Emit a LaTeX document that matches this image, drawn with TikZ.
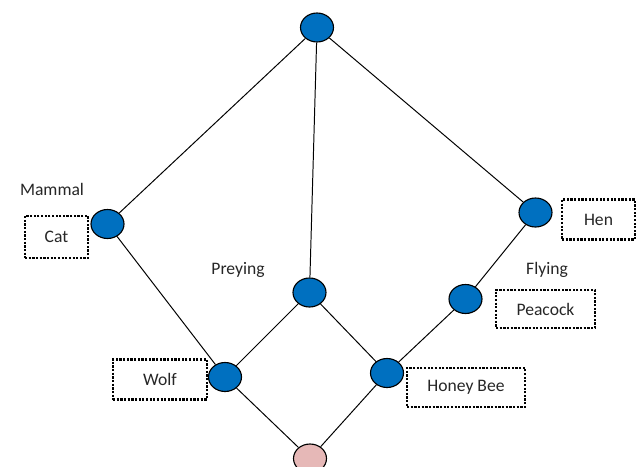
\documentclass[tikz,border=0pt]{standalone}
\usepackage{fontspec}
\setmainfont{Carlito}
\usetikzlibrary{shapes.geometric}
\definecolor{conceptblue}{RGB}{0,112,192}
\definecolor{bottompink}{RGB}{230,184,183}
\definecolor{labelgray}{RGB}{38,38,38}

\begin{document}
\begin{tikzpicture}[
	concept/.style={ellipse,draw,line width=0.8pt,fill=conceptblue,minimum width=0.825cm,minimum height=0.725cm,inner sep=0pt},
	objbox/.style={draw,densely dotted,line width=1.6pt,minimum height=1cm,inner sep=0pt,text=labelgray},
	attr/.style={text=labelgray},
	font=\fontsize{12.5}{15}\selectfont]

	\useasboundingbox (0,0) rectangle (15.975,11.65);

	% Draw the concept nodes of the lattice
	\node[concept] (top) at (7.925,10.9625) {};
	\node[concept] (mammal) at (2.6875,6.05) {};
	\node[concept] (preying) at (7.7375,4.3375) {};
	\node[concept] (hen) at (13.3875,6.3375) {};
	\node[concept] (peacock) at (11.6375,4.175) {};
	\node[concept] (wolf) at (5.625,2.225) {};
	\node[concept] (honeybee) at (9.675,2.325) {};
	\node[concept,fill=bottompink] (bottom) at (7.75,0.1875) {};

	% Draw the lattice edges
	\draw[line width=0.7pt] (top) -- (mammal);
	\draw[line width=0.7pt] (top) -- (preying);
	\draw[line width=0.7pt] (top) -- (hen);
	\draw[line width=0.7pt] (mammal) -- (wolf);
	\draw[line width=0.7pt] (preying) -- (wolf);
	\draw[line width=0.7pt] (preying) -- (honeybee);
	\draw[line width=0.7pt] (hen) -- (peacock);
	\draw[line width=0.7pt] (peacock) -- (honeybee);
	\draw[line width=0.7pt] (wolf) -- (bottom);
	\draw[line width=0.7pt] (honeybee) -- (bottom);

	% Attribute labels
	\node[attr] (lblmammal) at (1.3,6.925) {Mammal};
	\node[attr] (lblpreying) at (5.95,4.9) {Preying};
	\node[attr] (lblflying) at (13.675,4.9) {Flying};

	% Object boxes
	\node[objbox,minimum width=1.575cm,minimum height=1.05cm] (cat) at (1.4125,5.725) {Cat};
	\node[objbox,minimum width=2.35cm] (wolfbox) at (4.0,2.1625) {Wolf};
	\node[objbox,minimum width=2.95cm,minimum height=0.975cm] (beebox) at (11.65,1.9625) {Honey Bee};
	\node[objbox,minimum width=1.825cm] (henbox) at (14.9625,6.1625) {Hen};
	\node[objbox,minimum width=2.475cm,minimum height=0.95cm] (peacockbox) at (13.6375,3.925) {Peacock};

\end{tikzpicture}
\end{document}
